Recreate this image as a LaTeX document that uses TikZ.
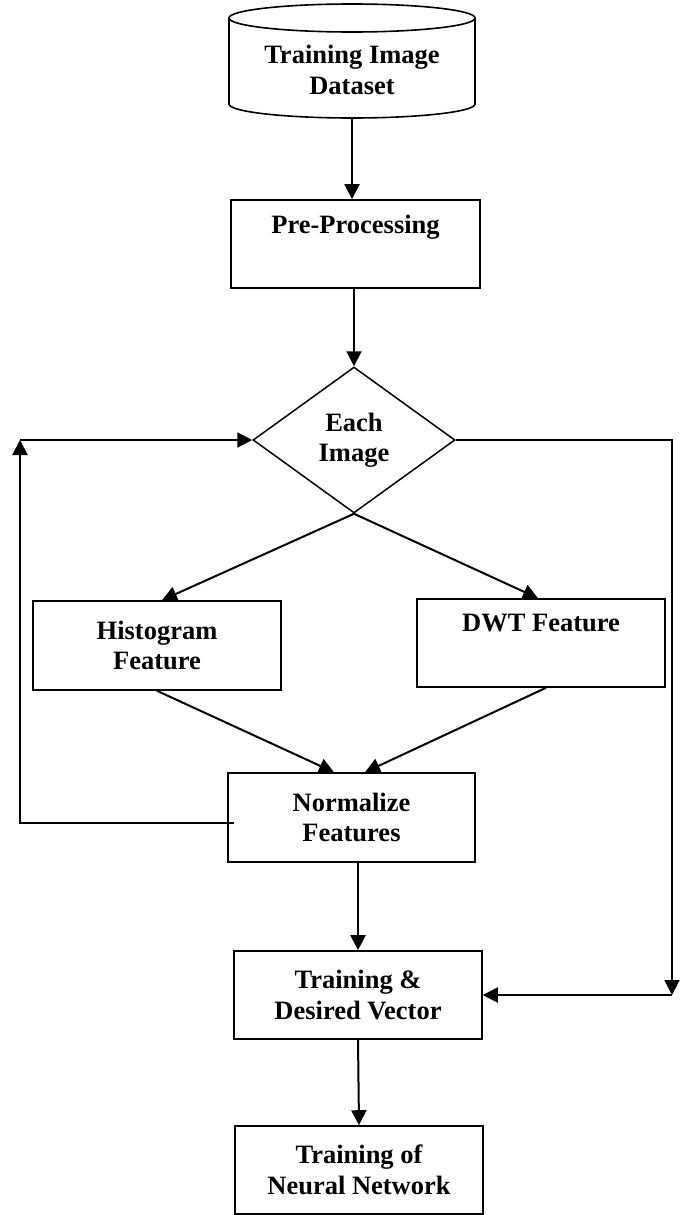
\documentclass[tikz,border=0pt]{standalone}
\usepackage{fontspec}
\setmainfont{Liberation Serif}
\usetikzlibrary{shapes.geometric,arrows.meta}
\begin{document}
\begin{tikzpicture}[x=1pt,y=1pt,
  every node/.style={font=\fontsize{26.5}{30.5}\selectfont\bfseries, align=center},
  boxnode/.style={draw, line width=1.6pt, minimum width=248pt, minimum height=88pt, inner sep=0pt},
  decnode/.style={draw, diamond, line width=1.5pt, minimum width=202pt, minimum height=146pt, aspect=1.38, inner sep=0pt},
  arr/.style={line width=2pt, -{Triangle[length=15pt,width=15pt]}}]
\useasboundingbox (0,0) rectangle (680,-1215);
% dataset cylinder
\node[minimum width=246pt, minimum height=114pt, inner sep=0pt] (ds) at (352,-61) {};
\draw[line width=1.6pt] (352,-18) ellipse [x radius=123, y radius=14];
\draw[line width=1.6pt] (229,-18) -- (229,-104) arc [start angle=180, end angle=360, x radius=123, y radius=14] -- (475,-18);
\node (dstext) at (352,-70) {Training Image\\Dataset};
% boxes
\node[boxnode, minimum width=249pt] (pre) at (355.5,-244) {Pre-Processing\\\strut};
\node[decnode] (dia) at (354,-440) {Each\\Image};
\node[boxnode, minimum height=89pt] (hist) at (157,-645.5) {Histogram\\Feature};
\node[boxnode] (dwt) at (541,-643) {DWT Feature\\\strut};
\node[boxnode, minimum width=247pt, minimum height=89pt] (norm) at (351.5,-817.5) {Normalize\\Features};
\node[boxnode] (tdv) at (358,-995) {Training \&\\Desired Vector};
\node[boxnode] (tnn) at (359,-1170) {Training of\\Neural Network};
% loop coordinates
\coordinate (ls) at (234,-823);
\coordinate (lp1) at (20,-823);
\coordinate (lp2) at (20,-440);
\coordinate (rp1) at (672,-440);
\coordinate (rp2) at (672,-995);
% connectors
\draw[arr] (ds.south) -- (ds.south |- pre.north);
\draw[arr] (dia.north |- pre.south) -- (dia.north);
\draw[arr] (dia.south) -- ([xshift=5pt]hist.north);
\draw[arr] (dia.south) -- ([xshift=-3pt]dwt.north);
\draw[arr] (hist.south) -- ([xshift=-17.5pt]norm.north);
\draw[arr] ([xshift=5pt]dwt.south) -- ([xshift=13.5pt]norm.north);
\draw[arr] (tdv.north |- norm.south) -- (tdv.north);
\draw[arr] (tdv.south) -- (tnn.north);
\draw[arr] (ls) -- (lp1) -- (lp2);
\draw[arr] (lp2) -- (dia.west);
\draw[arr] (dia.east) -- (rp1) -- (rp2);
\draw[arr] (rp2) -- (tdv.east);
\end{tikzpicture}
\end{document}
